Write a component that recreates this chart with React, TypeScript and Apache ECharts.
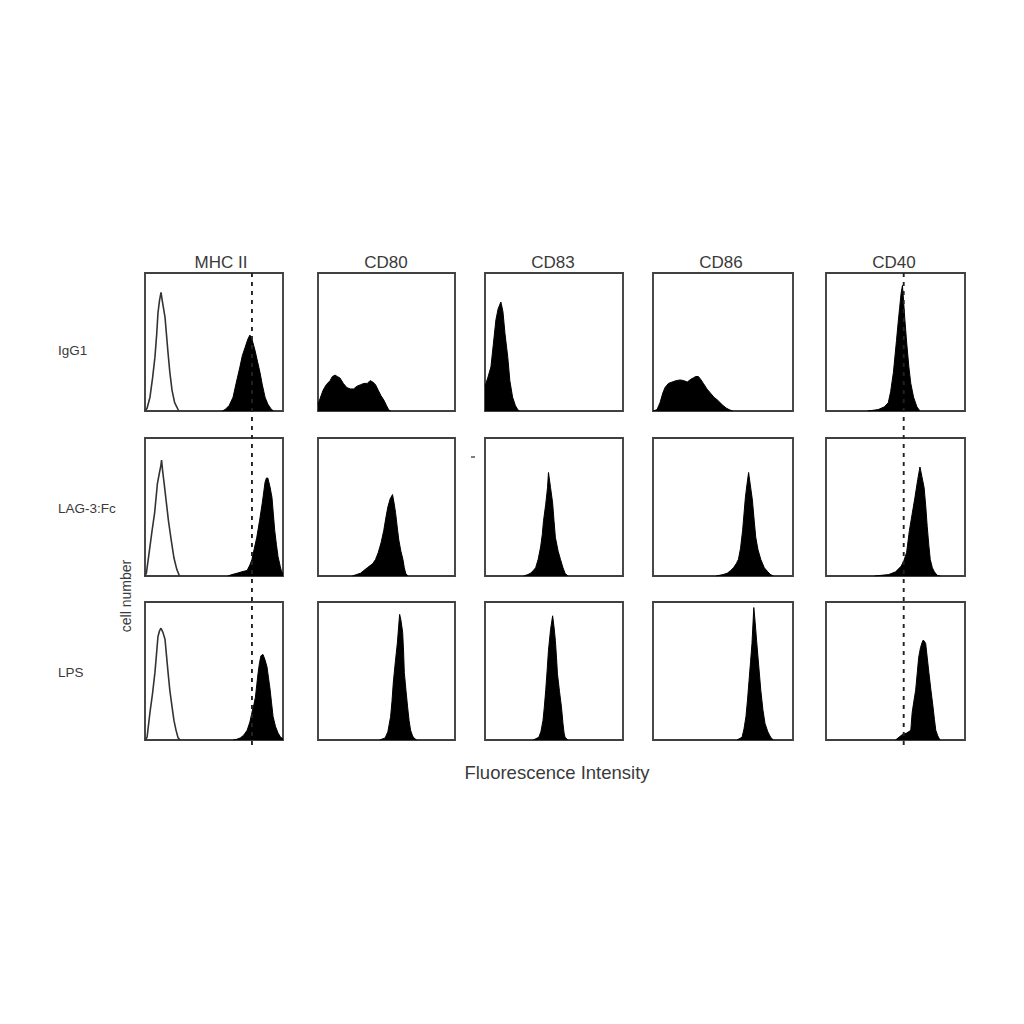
import React, { useEffect, useRef } from "react";
import * as echarts from "echarts";

// ---- labels ----
const columnLabels = ["MHC II", "CD80", "CD83", "CD86", "CD40"];
const rowLabels = ["IgG1", "LAG-3:Fc", "LPS"];
const xAxisTitle = "Fluorescence Intensity";
const yAxisTitle = "cell number";

// ---- histograms: [fluorescence position (0-100), relative cell count (0-100)] ----
// Row IgG1
const mhcIgG1Isotype = [[0,0],[1.5,2],[3.6,10],[5.5,24],[7.2,39],[8.5,56],[9.4,71],[10.5,80],[11.6,86],[12.5,80],[14.5,68],[16.7,42],[18,28],[19.6,15],[21.5,6],[23,3],[24.5,0]];
const mhcIgG1Stain = [[56,0],[58,1],[61,4],[63.8,10],[66,20],[68.8,32],[70.5,40],[72.5,46],[74.5,52],[76,55],[77.5,52],[79.7,44],[81.5,36],[83.3,28],[85,19],[87,10],[89,5],[91,2],[93,0]];
const cd80IgG1 = [[0,5],[1.5,9],[3.7,15],[6,19],[8.8,22],[10.5,25],[12.5,26],[14,25],[16,24],[18.5,20],[21,17],[23.5,16],[26,16],[28.5,18],[31,19],[33.5,20],[36,20],[38,22],[40,21],[42,19],[44,15],[46,11],[48,8],[50,4],[51.5,1],[53,0]];
const cd83IgG1 = [[0,18],[2,24],[4.3,32],[6,48],[7.9,66],[9.5,74],[11.5,79],[13,72],[14.5,56],[16.5,39],[18,22],[20,10],[22,4],[23.7,1],[25,0]];
const cd86IgG1 = [[0,0],[2.9,1],[5,6],[7,13],[8.6,17],[11,20],[13.7,21],[16.5,22],[19.4,22.5],[22,22],[24.5,21],[27,23],[28.8,24],[30.5,25],[32.4,25],[34,23],[36,20],[38.5,16],[41,13],[43.5,10],[46,8],[48,6],[50,4],[52.5,2],[55,0.7],[57,0]];
const cd40IgG1 = [[30,0],[37.5,1],[42,3],[44.8,6],[46.5,14],[48.5,28],[50.7,51],[52,65],[53,75],[54,85],[55,91],[55.8,80],[56.6,68],[58,50],[59.6,32],[61,20],[63,10],[65.4,3],[67.6,0]];
// Row LAG-3:Fc
const mhcLagIsotype = [[0,0],[1,2],[3,17],[5,32],[7,46],[9,67],[10.5,75],[11.5,80],[12,84],[12.8,76],[14,66],[15.5,53],[17,40],[19,26],[21,13],[23,5],[25,0]];
const mhcLagStain = [[60,0],[63,1],[66.7,2],[70,3],[74,4],[76,8],[77.5,12],[79,19],[81,28],[83,40],[85,53],[87,68],[88,71],[89,71],[90.5,65],[92,57],[93,45],[94,33],[95.2,23],[96.4,14],[98,7],[99,3],[100,2]];
const cd80Lag = [[25,0],[28,1],[31,2],[36,6],[40,9],[42,12],[44,17],[46,24],[48,33],[49.5,42],[51,50],[52.7,56],[54.4,59],[55.5,53],[56.6,46],[58,34],[59,26],[60.5,18],[62,12],[63,6],[64,2],[65.5,0]];
const cd83Lag = [[28,0],[31,1],[33,2],[35,4],[36.7,6],[38.5,12],[40.3,21],[41.5,30],[42.4,40],[44,52],[45.3,64],[46,75],[47.5,64],[49,53],[50,40],[51,28],[53,18],[54.7,12],[56.5,6],[58,2],[60,0]];
const cd86Lag = [[45,0],[50,1],[53,2],[55.5,4],[57.5,6],[59.5,9],[61,12],[62.5,20],[64,33],[65,45],[66,57],[67.2,67],[68.3,75],[69.5,66],[71,55],[72.3,40],[73.4,28],[75,19],[77,12],[79.5,6],[82,3],[84,1],[86,0]];
const cd40Lag = [[35,0],[40,0.5],[45,1],[50,3],[54,7],[56,11],[58,17],[60,33],[62,45],[64,57],[66,70],[67.6,79],[69,72],[70.6,64],[71.8,50],[72.8,36],[74,22],[75,12],[76.5,6],[78,3],[80,0.5],[82,0]];
// Row LPS
const mhcLpsIsotype = [[0,0],[1.5,2],[3.6,20],[5.5,34],[7.2,49],[8.4,63],[9.4,75],[10.5,79],[11.6,81],[13,78],[14.5,73],[15.6,61],[16.7,49],[18,36],[19.6,24],[21,14],[22.5,7],[24,1.5],[25.5,0]];
const mhcLpsStain = [[64,0],[66.5,0.5],[69,1.5],[71.5,3.5],[74,7],[76,13],[77.5,20],[79,26],[80,31],[81,40],[82,49],[83,56],[84,61],[85.5,62],[87,58],[88.4,53],[89.5,45],[90.6,37],[91.7,27],[92.8,17],[94.5,10],[96.4,5],[98,2.5],[99,1.5],[100,1]];
const cd80Lps = [[45,0],[49,1.5],[51,6],[53,17],[54,28],[55,42],[56.5,57],[58,71],[59,84],[59.6,91],[60.5,87],[61.8,78],[62.5,63],[63,49],[64.2,36],[65.4,24],[66.5,14],[67.6,7],[69,3],[70,1.5],[72,0]];
const cd83Lps = [[35,0],[39,2],[40.5,6],[42,14],[43,24],[44,36],[45,50],[46,65],[47.5,80],[49,90],[50,82],[51,72],[51.8,60],[52.5,48],[54,35],[55.4,24],[56.5,12],[57.3,5],[58,2],[60,0]];
const cd86Lps = [[60,0],[63.6,2],[65,8],[66.4,17],[67.5,29],[68.6,43],[69.7,57],[70.7,70],[71.4,84],[72,96],[73,85],[74,72],[75.5,54],[77,36],[78.5,22],[80,12],[82,6],[84,2],[86,0]];
const cd40Lps = [[50,0],[55,4],[58,5],[61,7],[62,20],[63.2,28],[64.5,36],[65.6,48],[66.7,60],[68,67],[69.6,72],[70.5,72],[71.7,70],[72.8,60],[74,49],[75.5,36],[77,24],[78,15],[79,7],[80.4,3],[82,0]];

const panelStain = [
  [mhcIgG1Stain, cd80IgG1, cd83IgG1, cd86IgG1, cd40IgG1],
  [mhcLagStain, cd80Lag, cd83Lag, cd86Lag, cd40Lag],
  [mhcLpsStain, cd80Lps, cd83Lps, cd86Lps, cd40Lps],
];
const panelIsotype = [mhcIgG1Isotype, mhcLagIsotype, mhcLpsIsotype]; // MHC II column only

// reference gates (dashed lines), in column fluorescence units
const gateColumns = [0, 4];
const gateValues = [77.5, 55.9];

// ---- layout ----
const colLeft = [145, 318, 485, 653, 826];
const colWidth = [138, 137, 138, 140, 139];
const rowTop = [273, 438, 602];
const rowHeight = 138;
const colLabelX = [221, 386, 553, 721, 894];
const rowLabelY = [350, 508, 672];
const FONT = '"Liberation Sans", Arial, sans-serif';

export default function App() {
  const ref = useRef<HTMLDivElement>(null);
  useEffect(() => {
    const chart = echarts.init(ref.current!, null, { renderer: "svg" });
    const grid: any[] = [];
    const xAxis: any[] = [];
    const yAxis: any[] = [];
    const series: any[] = [];
    rowLabels.forEach((_, r) => {
      columnLabels.forEach((_, c) => {
        const i = r * columnLabels.length + c;
        grid.push({
          left: colLeft[c], top: rowTop[r], width: colWidth[c], height: rowHeight,
          show: true, borderColor: "#404040", borderWidth: 1.9, backgroundColor: "transparent",
        });
        xAxis.push({ gridIndex: i, type: "value", min: 0, max: 100, show: false });
        yAxis.push({ gridIndex: i, type: "value", min: 0, max: 100, show: false });
        series.push({
          type: "line", xAxisIndex: i, yAxisIndex: i, data: panelStain[r][c],
          symbol: "none", silent: true,
          lineStyle: { color: "#000", width: 1 },
          areaStyle: { color: "#000", opacity: 1 },
        });
        if (c === 0) {
          series.push({
            type: "line", xAxisIndex: i, yAxisIndex: i, data: panelIsotype[r],
            symbol: "none", silent: true,
            lineStyle: { color: "#333", width: 1.6 },
          });
        }
      });
    });

    chart.setOption({ animation: false, backgroundColor: "#fff", grid, xAxis, yAxis, series });

    const txt = (text: string, x: number, y: number, size: number, align: string, rotation = 0) => ({
      type: "text", x, y, rotation,
      style: {
        text, font: `${size}px ${FONT}`, fill: "#3a3a3a",
        textAlign: align, textVerticalAlign: "middle", align, verticalAlign: "middle",
      },
    });

    const elements: any[] = [];
    columnLabels.forEach((l, c) => elements.push(txt(l, colLabelX[c], 262, 17, "center")));
    rowLabels.forEach((l, r) => elements.push(txt(l, 58, rowLabelY[r], 13.5, "left")));
    elements.push(txt(xAxisTitle, 557, 772, 18.5, "center"));
    elements.push(txt(yAxisTitle, 126, 596, 14, "center", Math.PI / 2));

    gateColumns.forEach((c, k) => {
      const top = chart.convertToPixel({ gridIndex: c }, [gateValues[k], 100]) as number[];
      const bottom = chart.convertToPixel({ gridIndex: 2 * columnLabels.length + c }, [gateValues[k], 0]) as number[];
      elements.push({
        type: "line",
        shape: { x1: top[0], y1: top[1], x2: bottom[0], y2: bottom[1] + 7 },
        style: { stroke: "#222", lineWidth: 1.9, lineDash: [4, 5] },
        z: 10,
      });
    });
    elements.push({ type: "line", shape: { x1: 471, y1: 457, x2: 475, y2: 457 }, style: { stroke: "#555", lineWidth: 1.5 } });

    chart.setOption({ graphic: { elements } });
    return () => chart.dispose();
  }, []);
  return <div ref={ref} style={{ position: "fixed", left: 0, top: 0, width: 1024, height: 1024, background: "#fff" }} />;
}
